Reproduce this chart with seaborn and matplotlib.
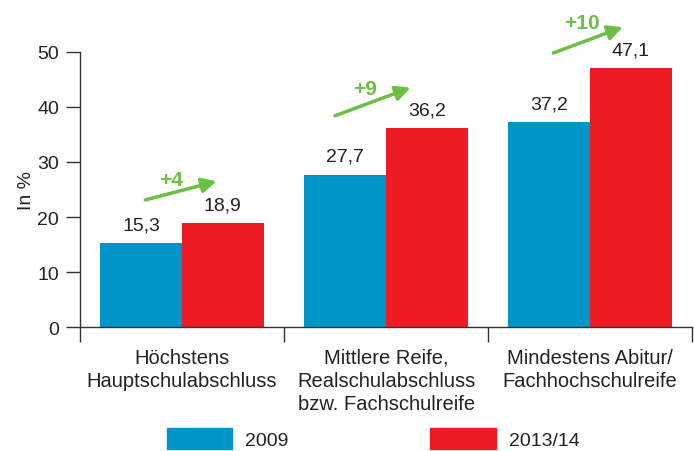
import pandas as pd
import seaborn as sns
import matplotlib.pyplot as plt

# Chart data
categories = ["Höchstens\nHauptschulabschluss",
              "Mittlere Reife,\nRealschulabschluss\nbzw. Fachschulreife",
              "Mindestens Abitur/\nFachhochschulreife"]
years = ["2009", "2013/14"]
values_2009 = [15.3, 27.7, 37.2]
values_2014 = [18.9, 36.2, 47.1]
changes = ["+4", "+9", "+10"]

# arrow endpoints (x offset from group centre, y in %)
arrow_x0 = [-0.18, -0.25, -0.18]
arrow_y0 = [23.1, 38.4, 49.8]
arrow_x1 = [0.17, 0.12, 0.16]
arrow_y1 = [26.5, 43.5, 54.5]
change_x = [-0.055, -0.105, -0.04]
change_y = [26.9, 43.3, 55.3]

blue = "#0095c8"
red = "#ed1c24"
green = "#6cbf45"
dark = "#333333"
fs = 14

df = pd.DataFrame({
    "Abschluss": categories * 2,
    "Jahr": [years[0]] * 3 + [years[1]] * 3,
    "Wert": values_2009 + values_2014,
})

sns.set_style("ticks")
plt.rcParams["font.family"] = ["Liberation Sans", "DejaVu Sans"]
plt.rcParams["font.size"] = fs

fig = plt.figure(figsize=(6.94, 4.52), dpi=100)
ax = fig.add_axes([0.1153, 0.274, 0.882, 0.609])

sns.barplot(data=df, x="Abschluss", y="Wert", hue="Jahr",
            palette=[blue, red], width=0.8, saturation=1, linewidth=0,
            ax=ax, legend=False)

ax.set_xlim(-0.5, 2.5)
ax.set_ylim(0, 50)
ax.set_yticks(range(0, 51, 10))
ax.set_ylabel("In %", color="#222222", labelpad=2, fontsize=fs)
ax.set_xlabel("")

# value labels with comma decimal
for cont in ax.containers:
    ax.bar_label(cont, labels=[f"{v.get_height():.1f}".replace(".", ",") for v in cont],
                 padding=7, color="#222222", fontsize=fs)

# green arrows with change labels
for i, ch in enumerate(changes):
    ax.annotate("", xy=(i + arrow_x1[i], arrow_y1[i]), xytext=(i + arrow_x0[i], arrow_y0[i]),
                annotation_clip=False,
                arrowprops=dict(arrowstyle="-|>", color=green, lw=2.5,
                                mutation_scale=22, shrinkA=0, shrinkB=0))
    ax.text(i + change_x[i], change_y[i], ch, color=green, fontsize=fs + 1,
            fontweight="bold", ha="center", va="center", clip_on=False)

# category separators as major ticks, names as minor ticks
ax.set_xticks([-0.5, 0.5, 1.5, 2.5])
ax.set_xticklabels([])
ax.set_xticks([0, 1, 2], minor=True)
ax.set_xticklabels(categories, minor=True, color="#222222", linespacing=1.28,
                   fontsize=fs + 0.5)
ax.tick_params(axis="x", which="major", bottom=True, length=11, width=1,
               color=dark, direction="out")
ax.tick_params(axis="x", which="minor", bottom=True, length=0, pad=15)
ax.tick_params(axis="y", left=True, length=10, width=1, color=dark, direction="out",
               pad=5, labelcolor="#222222")

for s in ["top", "right"]:
    ax.spines[s].set_visible(False)
for s in ["left", "bottom"]:
    ax.spines[s].set_color(dark)
    ax.spines[s].set_linewidth(1)

# legend at the bottom
handles = [plt.Rectangle((0, 0), 1, 1, color=blue), plt.Rectangle((0, 0), 1, 1, color=red)]
fig.legend(handles, years, loc="lower left", bbox_to_anchor=(0.215, -0.035),
           ncol=2, frameon=False, handlelength=3.35, handleheight=1.3,
           handletextpad=0.68, columnspacing=7.3, fontsize=fs, labelcolor="#222222")

fig.savefig("out.png", dpi=100)
